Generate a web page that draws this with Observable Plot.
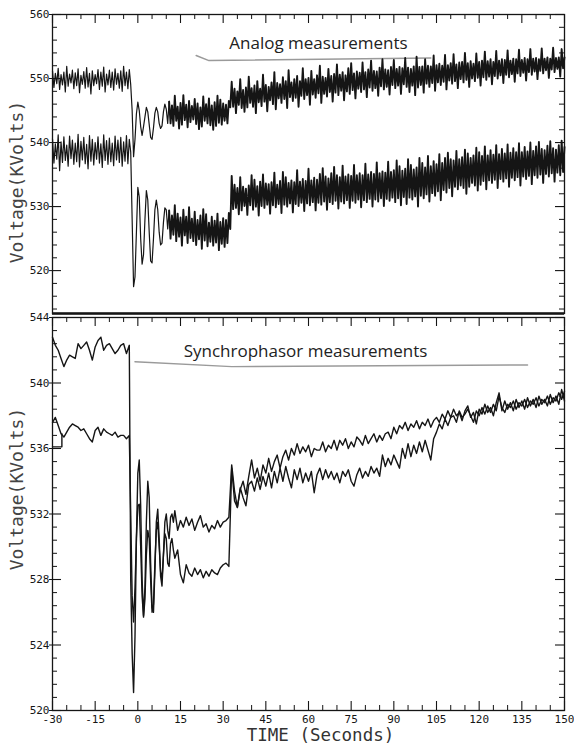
<!DOCTYPE html>
<html><head><meta charset="utf-8">
<script src="https://cdn.jsdelivr.net/npm/d3@7"></script>
<script src="https://cdn.jsdelivr.net/npm/@observablehq/plot@0.6"></script>
<style>
body{margin:0;background:#fff;}
#chart{width:574px;height:746px;position:relative;overflow:hidden;background:#fff;}
#chart svg{display:block;}
</style></head><body><div id="chart"></div>
<script>
// ---------- axis / tick values ----------
const xTicks = [-30, -15, 0, 15, 30, 45, 60, 75, 90, 105, 120, 135, 150];
const xMinor = [-25, -20, -10, -5, 5, 10, 20, 25, 35, 40, 50, 55, 65, 70, 80, 85, 95, 100, 110, 115, 125, 130, 140, 145];
const topYTicks = [520, 530, 540, 550, 560];
const topYMinor = [514, 516, 518, 522, 524, 526, 528, 532, 534, 536, 538, 542, 544, 546, 548, 552, 554, 556, 558];
const botYTicks = [520, 524, 528, 532, 536, 540, 544];
const topDomain = [513.3, 560];
const botDomain = [520, 544];

// ---------- analog traces: value at each whole second (pk, t=-30..150) and at each half second (tr, t=-29.5..149.5) ----------
const analogUpperPk = [
551.2,550.8,551.6,550.6,551.0,551.9,550.7,551.3,550.9,551.5,
550.5,551.1,551.7,550.8,551.2,550.6,551.4,551.0,551.8,550.7,
551.3,551.0,551.5,550.8,551.2,551.9,551.0,551.4,545.0,540.5,
546.3,542.5,542.5,545.5,542.8,540.5,544.6,544.8,542.2,544.8,
545.2,546.4,545.8,547.3,545.6,546.2,547.4,545.9,546.5,545.7,
546.8,546.1,545.5,547.2,546.0,546.9,545.8,546.3,547.3,546.7,
546.1,545.9,546.5,549.5,548.4,548.0,549.9,548.2,548.6,550.3,
548.5,548.9,549.6,548.4,550.6,549.0,548.7,549.4,551.0,549.3,
549.1,550.2,549.6,551.3,549.4,549.9,550.4,549.6,551.6,549.9,
550.1,551.2,549.9,550.5,552.0,550.3,550.1,551.5,550.4,550.7,
552.2,550.6,551.0,550.5,551.6,552.4,550.8,551.1,550.9,552.5,
551.0,551.4,552.8,551.2,551.1,551.7,553.0,551.4,551.3,551.8,
552.9,551.5,551.8,551.6,553.2,551.7,551.5,551.9,553.4,551.8,
551.9,553.0,552.0,551.9,553.6,552.1,552.3,552.0,553.7,552.1,
552.4,553.8,552.2,552.5,552.6,554.0,552.4,552.7,552.3,553.9,
552.6,552.8,554.2,552.7,553.0,552.6,554.3,552.8,553.0,552.9,
554.4,552.8,553.1,553.0,554.5,552.9,553.2,553.0,554.6,553.1,
553.2,553.0,554.7,553.1,553.3,553.1,554.8,553.2,553.3,554.6,
553.3];
const analogUpperTr = [
548.6,549.2,548.3,549.0,547.9,548.8,549.3,548.4,548.9,547.8,
549.1,548.5,548.7,547.6,548.9,549.2,548.3,548.8,547.9,549.0,
548.6,548.2,549.1,548.5,548.0,548.9,548.4,549.0,537.8,544.5,
545.0,541.1,544.0,544.8,540.8,542.3,545.5,543.0,542.6,546.0,
543.0,543.0,542.6,543.4,542.2,542.8,543.5,542.4,543.2,543.6,
542.9,542.1,542.5,543.4,543.0,542.7,542.0,542.6,543.1,542.8,
543.4,543.0,545.5,545.6,544.6,545.9,545.4,544.8,545.5,546.2,
545.6,544.6,546.3,545.7,546.4,544.9,546.6,546.0,545.2,546.9,
546.2,546.8,545.4,547.1,546.5,547.0,545.6,547.3,546.8,547.4,
545.9,547.5,547.0,547.7,546.2,547.6,547.2,547.9,546.4,547.8,
547.4,548.1,546.6,548.0,547.6,548.2,546.9,548.4,547.9,548.3,
547.1,548.6,548.1,548.5,547.3,548.8,548.3,548.7,547.5,549.0,
548.5,548.9,547.6,549.1,548.7,547.9,548.9,547.4,548.6,549.0,
547.8,549.2,548.7,549.3,548.1,549.4,549.0,549.5,548.3,549.7,
549.2,549.6,548.5,549.9,549.4,549.8,548.7,550.0,549.6,550.1,
548.9,550.2,549.8,550.3,549.1,550.4,550.0,550.5,549.3,550.6,
550.2,550.7,549.5,550.8,550.4,550.9,549.7,551.0,550.6,551.1,
549.9,551.2,550.8,551.3,550.1,551.4,551.0,551.5,550.3,551.6];
const analogLowerPk = [
540.6,539.8,541.2,540.1,540.9,539.6,541.0,540.4,539.9,541.3,
540.2,540.8,539.7,541.1,540.5,540.0,540.9,539.8,541.2,540.3,
540.7,539.9,541.0,540.4,540.8,540.1,541.1,540.5,528.0,519.0,
533.0,525.0,522.5,532.5,526.0,521.2,529.5,529.5,524.0,527.5,
529.5,529.4,528.6,530.2,528.9,528.3,529.5,528.4,529.9,528.1,
529.2,527.9,528.6,529.6,528.8,527.5,528.4,527.8,528.9,527.6,
528.2,527.9,529.0,534.8,533.4,532.9,534.6,533.1,532.8,533.3,
534.9,534.2,533.2,533.9,535.0,533.6,533.5,533.8,535.3,533.4,
534.0,535.4,534.6,533.7,534.1,533.8,535.7,533.9,534.3,534.0,
535.9,534.1,534.5,534.2,535.1,536.0,534.7,534.4,535.2,536.2,
534.9,534.6,536.4,534.7,535.0,534.8,536.5,534.9,535.2,534.9,
536.7,535.0,535.4,535.1,536.9,535.2,535.5,535.3,537.0,535.4,
535.7,537.2,536.3,535.6,535.9,537.4,536.5,535.8,536.1,537.6,
536.8,536.1,537.9,536.3,537.1,536.6,538.2,536.8,537.6,538.4,
537.4,537.2,538.7,537.4,537.7,538.9,538.3,537.6,538.0,539.2,
538.5,537.9,539.4,538.0,538.8,538.1,539.6,538.2,539.0,538.3,
539.7,538.4,539.1,538.5,539.9,538.5,539.3,538.6,540.0,538.7,
539.4,540.1,539.0,538.8,539.5,540.2,539.1,538.9,539.6,540.3,
539.3];
const analogLowerTr = [
536.8,537.4,535.6,536.9,537.2,536.3,537.5,536.6,537.0,536.2,
537.3,536.7,535.9,537.1,536.5,537.4,536.8,536.1,537.2,536.6,
537.0,536.4,537.3,536.9,536.3,537.1,536.7,538.5,517.5,526.0,
531.5,521.0,528.0,531.0,521.5,525.0,531.0,526.0,524.3,529.8,
526.5,525.0,525.6,524.6,525.3,523.9,525.5,524.3,525.1,524.6,
524.0,524.9,523.4,524.7,523.8,524.5,523.9,524.4,523.2,524.2,
523.7,524.3,526.5,529.6,529.8,528.8,529.4,530.1,528.7,530.2,
529.5,530.0,528.6,530.1,529.8,530.3,528.9,530.2,529.9,530.4,
529.0,530.3,530.0,530.5,529.1,530.4,530.1,530.6,529.3,530.5,
530.2,530.7,529.4,530.6,530.3,530.8,529.5,530.7,530.4,530.9,
529.7,530.8,530.5,531.0,529.8,530.9,530.6,531.1,529.9,531.0,
530.7,531.2,530.0,531.1,530.8,531.3,530.1,531.2,530.9,531.4,
530.7,531.3,530.2,531.5,530.4,531.4,531.1,531.6,530.0,531.7,
531.3,531.9,530.8,532.1,531.7,532.4,531.0,532.6,532.2,532.9,
531.6,533.1,532.7,533.3,532.9,532.0,533.1,533.7,533.3,532.5,
533.4,534.0,532.7,534.1,533.7,534.2,532.9,534.3,533.9,534.4,
533.1,534.5,534.1,534.6,533.3,534.7,534.3,534.8,533.5,534.9,
534.5,535.0,533.7,535.1,534.7,535.2,533.9,535.3,534.9,535.4];

// ---------- synchrophasor traces: 1 s steps to -3, 0.5 s steps -2.5..13, 1 s steps 14..150 ----------
const syncTime = [...d3.range(-30, -2.9, 1), ...d3.range(-2.5, 13.01, 0.5), ...d3.range(14, 150.01, 1)];
const syncA = [
542.8,542.3,542.0,541.5,541.0,541.4,541.7,541.6,541.5,542.4,
542.1,542.3,542.5,542.0,541.4,542.2,542.6,542.8,542.0,542.3,
542.4,542.1,541.8,542.0,542.3,542.4,541.8,542.3,
528.0,523.5,521.1,524.5,530.5,534.5,535.3,532.5,528.0,525.8,
527.5,531.5,534.0,533.0,529.0,526.3,526.0,528.5,531.5,532.3,
530.5,528.2,527.6,529.5,531.5,532.0,531.0,530.5,531.8,532.0,
531.5,532.2,
531.0,531.6,531.2,531.8,531.3,531.7,531.0,531.5,531.9,531.2,
531.4,530.9,531.3,531.1,531.6,531.2,531.5,531.6,531.8,535.0,
533.4,532.4,533.5,534.0,533.2,534.3,535.3,534.2,534.8,534.0,
535.0,534.5,535.4,534.6,535.2,535.6,534.8,535.5,535.9,535.3,
536.0,535.6,536.3,535.7,536.1,535.8,536.2,535.5,536.0,535.9,
535.9,536.4,535.8,536.2,536.0,536.5,535.9,536.5,536.2,536.6,
536.0,536.4,536.1,536.7,536.5,536.2,536.8,536.3,536.6,536.9,
536.4,536.8,536.5,536.9,537.0,536.6,537.3,536.9,537.4,537.2,
537.6,537.1,537.5,537.3,537.7,537.2,537.6,537.4,537.8,537.3,
537.7,537.9,537.6,538.1,537.8,538.3,537.9,538.4,538.0,538.2,
537.7,538.3,538.6,537.9,538.2,537.5,538.4,538.1,538.7,538.2,
538.5,538.0,538.8,539.4,538.3,538.9,538.4,538.8,538.3,539.0,
538.5,538.9,538.4,539.1,538.6,539.0,538.5,539.2,538.7,539.0,
538.6,539.3,538.8,539.2,538.7,539.6,538.9];
const syncB = [
537.6,537.9,537.4,536.9,536.7,537.0,537.3,537.5,537.4,537.3,
537.1,537.2,536.9,536.6,536.4,537.1,537.3,536.8,537.2,537.0,
536.9,536.8,537.0,536.7,536.8,536.8,536.6,536.8,
532.0,527.0,525.4,527.5,530.5,532.5,532.6,530.0,527.0,525.7,
526.8,529.5,531.0,530.5,528.0,526.0,526.5,529.0,531.0,531.5,
530.0,528.5,528.0,529.5,530.8,530.5,529.0,528.8,530.2,530.5,
529.8,529.3,
529.8,528.3,527.8,528.9,528.4,528.2,528.7,528.3,528.6,528.1,
528.5,528.2,528.6,528.4,528.3,528.7,528.9,529.0,528.8,534.8,
532.8,532.4,533.6,533.0,532.5,533.8,534.0,533.4,534.2,533.5,
534.3,533.7,534.5,533.6,534.6,533.9,534.8,534.0,534.9,534.2,
533.6,534.7,534.1,534.8,533.9,534.5,534.0,534.6,533.3,534.4,
534.8,534.1,534.7,534.2,534.6,534.1,534.5,533.9,534.6,534.3,
534.7,534.0,533.7,534.4,534.8,534.2,534.6,534.3,534.9,534.5,
534.8,534.3,535.6,534.9,535.4,535.0,535.6,535.2,534.8,536.0,
535.4,536.3,535.5,536.2,535.7,536.4,535.8,536.5,535.9,535.3,
536.6,537.0,537.5,537.2,537.8,537.4,537.9,538.0,537.6,538.3,
537.9,538.1,538.4,538.0,537.6,538.3,538.0,538.5,538.1,538.6,
538.2,538.7,538.3,539.2,538.5,538.2,538.7,538.5,538.9,538.4,
538.8,538.6,539.0,538.5,538.9,538.7,539.1,538.6,539.0,538.8,
539.2,538.7,539.1,538.9,539.4,539.0,539.5];
// small initial step drawn by the recorder on the lower synchrophasor trace
const syncBStartTime = [-30, -26.7, -26.7];
const syncBStartV = [536.1, 536.1, 536.9];

// ---------- hand-drawn annotation underlines (data units) ----------
const analogNoteTime = [20.5, 25, 103];
const analogNoteV = [553.6, 552.8, 553.2];
const syncNoteTime = [-1, 33, 137];
const syncNoteV = [541.3, 541.0, 541.1];

// ---------- build tables ----------
function zigzag(pk, tr) {
  const pts = [];
  for (let i = 0; i < pk.length; i++) {
    pts.push({t: -30 + i, v: pk[i]});
    if (i < tr.length) pts.push({t: -29.5 + i, v: tr[i]});
  }
  return pts;
}
const pairs = (ts, vs) => ts.map((t, i) => ({t, v: vs[i]}));
const upperA = zigzag(analogUpperPk, analogUpperTr);
const lowerA = zigzag(analogLowerPk, analogLowerTr);
// the transient is drawn with a thinner pen than the dense noisy stretches
const early = a => a.filter(d => d.t <= 11);
const late = a => a.filter(d => d.t >= 11);
const sA = pairs(syncTime, syncA);
const sB = pairs(syncTime, syncB);
const sBStart = pairs(syncBStartTime, syncBStartV);
const noteA = pairs(analogNoteTime, analogNoteV);
const noteS = pairs(syncNoteTime, syncNoteV);

const botYMinor = d3.range(520, 544.01, 0.8).map(d => +d.toFixed(1)).filter(d => !botYTicks.includes(d));

// ---------- layout ----------
const W = 574, ML = 52, MR = 10;
const innerW = W - ML - MR;
const topH = 314, topMT = 14, topMB = 1, topIH = topH - topMT - topMB;
const botH = 432, botMT = 3, botMB = 36, botIH = botH - botMT - botMB;
const ink = "#151515";
const mono = "DejaVu Sans Mono";
const sans = "Open Sans";
const MAJ = 9, MIN = 5;

function edgeTicks(yT, yMin, ih, topEdge, bottomEdge) {
  const m = [
    Plot.tickY(yT, {y: d => d, insetRight: innerW - MAJ, stroke: ink, strokeWidth: 1.1}),
    Plot.tickY(yMin, {y: d => d, insetRight: innerW - MIN, stroke: ink, strokeWidth: 1}),
    Plot.tickY(yT, {y: d => d, insetLeft: innerW - MAJ, stroke: ink, strokeWidth: 1.1}),
    Plot.tickY(yMin, {y: d => d, insetLeft: innerW - MIN, stroke: ink, strokeWidth: 1})
  ];
  if (topEdge) m.push(
    Plot.tickX(xTicks, {x: d => d, insetBottom: ih - MAJ, stroke: ink, strokeWidth: 1.1}),
    Plot.tickX(xMinor, {x: d => d, insetBottom: ih - MIN, stroke: ink, strokeWidth: 1}));
  if (bottomEdge) m.push(
    Plot.tickX(xTicks, {x: d => d, insetTop: ih - MAJ, stroke: ink, strokeWidth: 1.1}),
    Plot.tickX(xMinor, {x: d => d, insetTop: ih - MIN, stroke: ink, strokeWidth: 1}));
  return m;
}

const baseStyle = {fontFamily: mono, fontSize: "11px", background: "#fff", color: ink, overflow: "visible"};

const topPlot = Plot.plot({
  width: W, height: topH,
  marginLeft: ML, marginRight: MR, marginTop: topMT, marginBottom: topMB,
  style: baseStyle,
  x: {domain: [-30, 150], axis: null},
  y: {domain: topDomain, axis: null},
  marks: [
    Plot.line(noteA, {x: "t", y: "v", stroke: "#9a9a9a", strokeWidth: 1.5}),
    Plot.text(["Analog measurements"], {frameAnchor: "top", lineAnchor: "middle", textAnchor: "middle", dx: 10, dy: 29, fontFamily: sans, fontSize: 17, fill: "#222"}),
    Plot.line(early(upperA), {x: "t", y: "v", stroke: ink, strokeWidth: 1.2}),
    Plot.line(early(lowerA), {x: "t", y: "v", stroke: ink, strokeWidth: 1.2}),
    Plot.line(late(upperA), {x: "t", y: "v", stroke: ink, strokeWidth: 1.9}),
    Plot.line(late(lowerA), {x: "t", y: "v", stroke: ink, strokeWidth: 1.9}),
    ...edgeTicks(topYTicks, topYMinor, topIH, true, false),
    Plot.axisY({ticks: topYTicks, anchor: "left", label: null, tickSize: 3, tickPadding: 0, tickFormat: d => String(d), stroke: ink, fontSize: 11}),
    Plot.frame({stroke: ink, strokeWidth: 1.3}),
    Plot.ruleY([topDomain[0]], {stroke: ink, strokeWidth: 2.6}),
    Plot.text(["Voltage(KVolts)"], {frameAnchor: "left", rotate: -90, textAnchor: "middle", lineAnchor: "middle", dx: -35, dy: 18, fontFamily: mono, fontSize: 18, fill: "#444"})
  ]
});

const botPlot = Plot.plot({
  width: W, height: botH,
  marginLeft: ML, marginRight: MR, marginTop: botMT, marginBottom: botMB,
  style: baseStyle,
  x: {domain: [-30, 150], axis: null},
  y: {domain: botDomain, axis: null},
  marks: [
    Plot.line(noteS, {x: "t", y: "v", stroke: "#9a9a9a", strokeWidth: 1.5}),
    Plot.text(["Synchrophasor measurements"], {frameAnchor: "top", lineAnchor: "middle", textAnchor: "middle", dx: -3, dy: 34, fontFamily: sans, fontSize: 17, fill: "#222"}),
    Plot.line(sBStart, {x: "t", y: "v", stroke: ink, strokeWidth: 1.4}),
    Plot.line(sB, {x: "t", y: "v", stroke: ink, strokeWidth: 1.4}),
    Plot.line(sA, {x: "t", y: "v", stroke: ink, strokeWidth: 1.4}),
    ...edgeTicks(botYTicks, botYMinor, botIH, true, true),
    Plot.axisY({ticks: botYTicks, anchor: "left", label: null, tickSize: 3, tickPadding: 0, tickFormat: d => String(d), stroke: ink, fontSize: 11}),
    Plot.axisX({ticks: xTicks, anchor: "bottom", label: null, tickSize: 0, tickPadding: 5, tickFormat: d => String(d), fontSize: 11}),
    Plot.frame({stroke: ink, strokeWidth: 1.3}),
    Plot.text(["Voltage(KVolts)"], {frameAnchor: "left", rotate: -90, textAnchor: "middle", lineAnchor: "middle", dx: -35, dy: -25, fontFamily: mono, fontSize: 18, fill: "#444"}),
    Plot.text(["TIME (Seconds)"], {frameAnchor: "bottom", textAnchor: "middle", lineAnchor: "middle", dx: 12, dy: 25, fontFamily: mono, fontSize: 17.5, fill: "#333"})
  ]
});

const chart = document.getElementById("chart");
chart.appendChild(topPlot);
chart.appendChild(botPlot);
</script>
</body></html>
